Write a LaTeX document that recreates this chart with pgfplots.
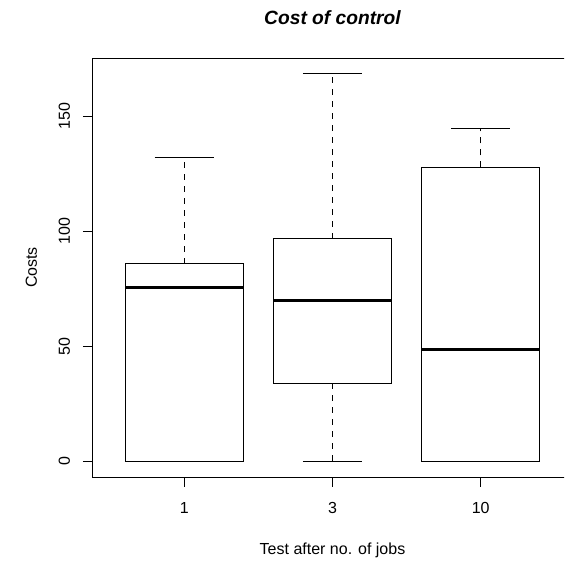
\documentclass[border=0pt]{standalone}
\usepackage{pgfplots}
\pgfplotsset{compat=1.18}
\usepackage{fontspec}
\setmainfont{Liberation Sans}
\begin{document}
\begin{tikzpicture}
\useasboundingbox (0,0) rectangle (564pt,564pt);
\clip (0,0) rectangle (564pt,564pt);
\begin{axis}[
  at={(92.5pt,87pt)}, anchor=south west,
  scale only axis, width=480pt, height=419pt,
  xmin=0.38, xmax=3.62, ymin=-6.744, ymax=175.34,
  axis line style={line width=0.9pt},
  tick style={line width=0.9pt, black},
  major tick length=9.6pt, tick align=outside, tick pos=left,
  xtick={1,2,3}, xticklabels={1,3,10},
  ytick={0,50,100,150},
  /pgf/number format/assume math mode=true,
  font=\fontsize{16}{19}\selectfont,
  xticklabel style={anchor=base, yshift=-27pt},
  yticklabel style={rotate=90, anchor=base, yshift=13pt},
  xlabel={Test after no. of jobs},
  xlabel style={at={(axis description cs:0.5,0)}, anchor=base, yshift=-77pt},
  ylabel={Costs},
  ylabel style={at={(axis description cs:0,0.5)}, anchor=base, yshift=55.5pt},
  title={Cost of control},
  title style={at={(axis description cs:0.5,1)}, anchor=base, yshift=27pt, font=\fontsize{19.2}{23}\selectfont\bfseries\itshape},
  cycle list={{black,solid,mark=none}},
  every axis plot/.append style={black, line width=0.9pt, mark=none},
]
% --- group 1 (x=1): whiskers 0..132.0, box 0..86.0, median 75.4
\addplot+[dash pattern=on 6pt off 6pt] coordinates {(1,86.0) (1,132.0)};
\addplot+[solid] coordinates {(0.8,132.0) (1.2,132.0)};
\addplot+[solid] coordinates {(0.8,0) (1.2,0)};
\addplot+[solid] coordinates {(0.6,0) (1.4,0) (1.4,86.0) (0.6,86.0) (0.6,0)};
\addplot+[solid, line width=3pt] coordinates {(0.6,75.4) (1.4,75.4)};
% --- group 2 (x=2): whiskers 0..168.6, box 34.1..96.8, median 70.0
\addplot+[dash pattern=on 6pt off 6pt] coordinates {(2,96.8) (2,168.6)};
\addplot+[dash pattern=on 6pt off 6pt] coordinates {(2,34.1) (2,0)};
\addplot+[solid] coordinates {(1.8,168.6) (2.2,168.6)};
\addplot+[solid] coordinates {(1.8,0) (2.2,0)};
\addplot+[solid] coordinates {(1.6,34.1) (2.4,34.1) (2.4,96.8) (1.6,96.8) (1.6,34.1)};
\addplot+[solid, line width=3pt] coordinates {(1.6,70.0) (2.4,70.0)};
% --- group 3 (x=3): whiskers 0..144.8, box 0..127.8, median 48.7
\addplot+[dash pattern=on 6pt off 6pt] coordinates {(3,127.8) (3,144.8)};
\addplot+[solid] coordinates {(2.8,144.8) (3.2,144.8)};
\addplot+[solid] coordinates {(2.8,0) (3.2,0)};
\addplot+[solid] coordinates {(2.6,0) (3.4,0) (3.4,127.8) (2.6,127.8) (2.6,0)};
\addplot+[solid, line width=3pt] coordinates {(2.6,48.7) (3.4,48.7)};
\end{axis}
\end{tikzpicture}
\end{document}
